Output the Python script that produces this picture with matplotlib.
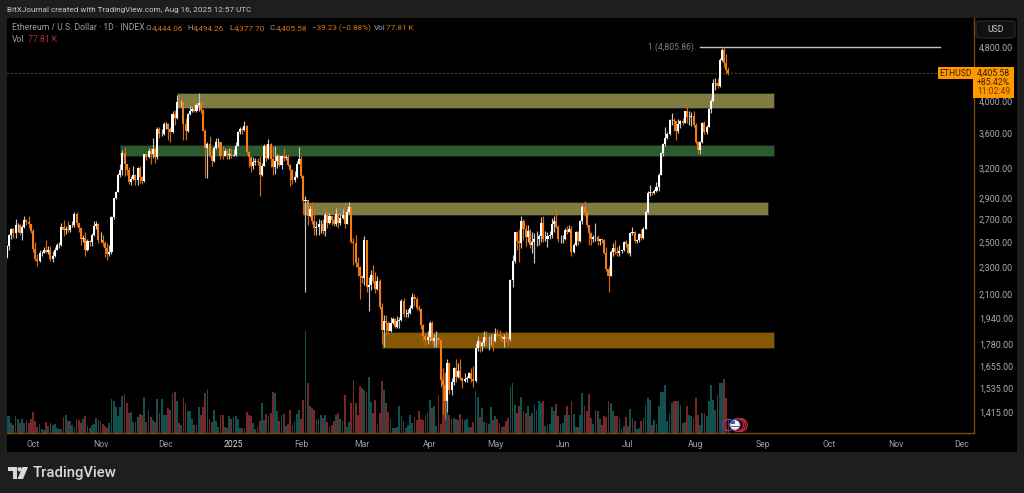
import numpy as np
import pandas as pd
import matplotlib
matplotlib.use("Agg")
import matplotlib.pyplot as plt
import matplotlib.dates as mdates
from matplotlib.patches import Rectangle, Circle, Polygon, FancyBboxPatch
from matplotlib.transforms import Affine2D
from matplotlib.ticker import FuncFormatter, NullLocator, FixedLocator

# ---- Daily data (Sep 19 2024 .. Aug 16 2025) ----
first_open = 2380
close_sep = [2465,2560,2612,2580,2645,2650,2580,2630,2695,2675,2655,2600]
high_sep  = [2480,2570,2620,2620,2700,2670,2660,2650,2730,2700,2730,2660]
low_sep   = [2370,2440,2530,2540,2540,2590,2560,2520,2620,2650,2620,2580]
vol_sep   = [37,37,22,18,37,30,22,30,22,28,22,30]

close_oct = [2445,2365,2350,2415,2415,2440,2420,2440,2365,2385,2440,2475,2480,2630,2605,2610,2605,2645,2645,2750,2665,2625,2525,2535,2440,2510,2505,2565,2640,2660,2515]
high_oct  = [2610,2500,2400,2440,2430,2460,2520,2465,2470,2430,2460,2490,2500,2665,2695,2640,2680,2650,2680,2770,2770,2660,2630,2560,2590,2530,2520,2580,2680,2680,2670]
low_oct   = [2420,2350,2310,2340,2390,2410,2410,2400,2350,2340,2380,2440,2455,2470,2550,2570,2590,2590,2630,2635,2640,2590,2480,2500,2385,2430,2470,2465,2550,2610,2490]
vol_oct   = [47,27,14,20,9,7,24,16,22,18,20,12,9,8,36,40,26,26,18,14,30,28,22,30,38,16,10,17,20,33,28]

close_nov = [2515,2490,2455,2400,2420,2720,2895,2960,3125,3180,3370,3245,3185,3060,3090,3130,3075,3205,3105,3070,3355,3325,3395,3360,3415,3325,3650,3590,3590,3705]
high_nov  = [2585,2560,2510,2490,2475,2730,2900,2965,3150,3250,3400,3440,3245,3215,3120,3220,3140,3215,3220,3120,3360,3370,3430,3430,3540,3430,3680,3680,3650,3730]
low_nov   = [2500,2470,2380,2360,2390,2400,2700,2890,2955,3110,3130,3120,3125,3035,3030,3080,3030,3030,3050,3040,3060,3290,3310,3250,3310,3260,3300,3540,3560,3580]
vol_nov   = [26,20,15,12,22,76,70,57,38,58,82,86,66,44,46,24,24,35,42,40,80,25,50,35,28,24,75,45,75,40]

close_dec = [3705,3645,3610,3835,3785,4000,3995,4000,3710,3630,3835,3880,3905,3870,3960,3985,3890,3625,3420,3470,3335,3280,3420,3490,3490,3335,3330,3395,3350,3355,3330]
high_dec  = [3740,3720,3670,3880,3885,4085,4020,4020,4005,3780,3845,3945,3930,3975,3975,4110,3995,3900,3650,3490,3560,3400,3450,3540,3545,3500,3445,3420,3410,3430,3420]
low_dec   = [3650,3520,3500,3600,3700,3770,3960,3925,3520,3520,3610,3820,3860,3860,3860,3880,3850,3620,3100,3100,3320,3220,3270,3410,3440,3300,3300,3330,3300,3300,3310]
vol_dec   = [40,55,52,88,90,70,22,18,78,66,48,48,32,18,18,58,40,58,88,98,31,24,52,26,14,40,40,14,12,38,30]

close_jan = [3350,3450,3610,3655,3635,3685,3380,3325,3220,3265,3285,3270,3135,3225,3450,3310,3475,3300,3210,3280,3330,3240,3340,3315,3320,3235,3185,3080,3110,3250,3300]
high_jan  = [3410,3490,3630,3680,3670,3745,3700,3390,3340,3320,3310,3310,3340,3260,3470,3470,3525,3480,3450,3450,3360,3360,3350,3425,3350,3360,3250,3190,3170,3280,3440]
low_jan   = [3330,3340,3450,3590,3590,3620,3360,3210,3160,3190,3240,3235,2920,3120,3220,3280,3300,3210,3130,3140,3200,3220,3190,3280,3290,3220,3020,3040,3060,3100,3260]
vol_jan   = [36,38,32,12,10,12,46,40,38,22,8,14,26,66,28,42,38,44,92,88,48,26,40,42,16,20,50,18,26,42,52]

close_feb = [3120,2870,2880,2730,2790,2685,2625,2630,2660,2660,2600,2740,2670,2725,2690,2660,2745,2670,2715,2740,2660,2770,2815,2500,2495,2335,2305,2235]
high_feb  = [3330,3130,2920,2830,2825,2860,2780,2680,2700,2690,2700,2770,2780,2760,2730,2730,2800,2760,2760,2790,2860,2790,2860,2820,2540,2560,2380,2310]
low_feb   = [3100,2750,2120,2650,2720,2660,2560,2560,2560,2580,2570,2550,2620,2660,2650,2640,2640,2620,2650,2700,2620,2660,2750,2490,2320,2300,2230,2070]
vol_feb   = [30,74,227,110,60,55,52,28,30,40,33,40,24,14,18,26,40,44,30,26,85,14,24,67,118,67,40,105]

close_mar = [2215,2515,2155,2170,2240,2200,2140,2200,2015,1865,1920,1910,1860,1910,1935,1885,1925,1930,2055,1965,1965,1975,2005,2080,2065,2010,2000,1895,1825,1805,1820]
high_mar  = [2240,2550,2520,2225,2280,2320,2260,2230,2210,2040,1960,1960,1920,1945,1950,1940,1955,1950,2070,2075,2000,2000,2030,2110,2100,2080,2025,2010,1900,1840,1860]
low_mar   = [2180,2170,2120,1990,2130,2180,2110,2130,2000,1780,1760,1840,1840,1850,1905,1880,1880,1880,1925,1950,1950,1950,1970,2000,2020,1995,1990,1870,1800,1770,1780]
vol_mar   = [100,96,92,125,68,44,74,20,44,115,96,66,46,30,12,10,14,59,37,26,11,18,40,22,36,28,48,30,28,40,44]

close_apr = [1910,1795,1815,1815,1805,1580,1550,1470,1670,1525,1565,1645,1595,1625,1590,1575,1585,1590,1615,1585,1575,1755,1795,1770,1785,1820,1795,1800,1800,1795]
high_apr  = [1925,1925,1840,1860,1820,1810,1640,1620,1690,1670,1590,1650,1695,1670,1690,1595,1615,1600,1620,1640,1655,1785,1830,1800,1800,1860,1860,1830,1840,1830]
low_apr   = [1800,1780,1760,1760,1780,1540,1410,1385,1420,1505,1500,1550,1565,1590,1580,1535,1565,1570,1590,1565,1540,1570,1740,1730,1740,1770,1770,1745,1775,1740]
vol_apr   = [74,55,60,15,85,20,125,130,110,40,30,34,32,28,42,30,28,32,14,14,24,93,80,35,55,24,22,20,58,28]

close_may = [1840,1835,1830,1810,1820,1815,1810,2205,2345,2585,2510,2495,2680,2610,2545,2600,2475,2500,2525,2525,2550,2665,2530,2530,2550,2565,2660,2680,2630,2530,2530]
high_may  = [1875,1870,1865,1830,1840,1860,1840,2210,2395,2590,2600,2610,2725,2700,2650,2650,2610,2590,2580,2595,2570,2720,2730,2600,2590,2600,2710,2730,2790,2650,2560]
low_may   = [1790,1820,1800,1790,1760,1790,1775,1800,2150,2330,2440,2340,2450,2520,2470,2500,2450,2410,2330,2470,2480,2500,2500,2510,2460,2530,2540,2590,2620,2500,2490]
vol_may   = [38,30,22,14,16,26,34,102,110,62,44,60,80,48,44,60,38,45,65,52,70,66,70,15,18,20,58,48,65,37,21]

close_jun = [2530,2605,2590,2610,2420,2475,2585,2510,2680,2815,2770,2645,2580,2525,2545,2545,2510,2525,2520,2410,2290,2230,2420,2450,2420,2415,2425,2435,2500,2485]
high_jun  = [2560,2620,2640,2650,2640,2490,2600,2600,2690,2830,2870,2780,2650,2590,2560,2670,2560,2530,2540,2530,2460,2310,2440,2490,2520,2460,2480,2440,2510,2520]
low_jun   = [2490,2520,2570,2590,2390,2410,2470,2480,2500,2660,2730,2630,2480,2480,2500,2510,2480,2480,2490,2400,2270,2120,2230,2390,2400,2390,2390,2410,2430,2460]
vol_jun   = [22,40,60,40,70,42,13,13,40,88,59,48,87,33,20,50,48,31,18,37,35,70,66,48,37,37,33,9,15,35]

close_jul = [2410,2575,2585,2510,2515,2570,2540,2615,2770,2950,2955,2945,2970,3010,3135,3370,3475,3545,3590,3760,3765,3745,3625,3705,3745,3725,3870,3795,3795,3810,3695]
high_jul  = [2490,2590,2630,2600,2530,2580,2610,2630,2780,2970,3030,2960,2990,3060,3150,3380,3480,3680,3610,3770,3850,3780,3750,3770,3760,3790,3880,3940,3880,3860,3870]
low_jul   = [2400,2390,2560,2490,2490,2500,2520,2530,2610,2760,2920,2930,2940,2960,2970,3130,3330,3450,3530,3580,3700,3630,3520,3600,3660,3700,3720,3720,3700,3690,3680]
vol_jul   = [15,53,33,26,9,10,26,33,63,78,74,18,28,20,60,92,92,107,26,44,67,70,70,70,63,22,24,60,41,37,33]

close_aug = [3490,3400,3495,3720,3615,3680,3905,4010,4260,4260,4220,4590,4750,4550,4440,4405.58]
high_aug  = [3720,3510,3510,3735,3745,3700,3920,4050,4320,4330,4330,4620,4790,4805.86,4690,4494.26]
low_aug   = [3470,3360,3360,3480,3590,3590,3670,3850,4000,4160,4190,4200,4580,4490,4380,4377.70]
vol_aug   = [78,41,18,44,44,37,70,107,74,52,85,112,111,120,78,30]

months = ["sep","oct","nov","dec","jan","feb","mar","apr","may","jun","jul","aug"]
g = globals()
closes = np.concatenate([g["close_" + m] for m in months], dtype=float)
highs = np.concatenate([g["high_" + m] for m in months], dtype=float)
lows = np.concatenate([g["low_" + m] for m in months], dtype=float)
volumes = np.concatenate([g["vol_" + m] for m in months], dtype=float)
dates = pd.date_range("2024-09-19", periods=len(closes), freq="D")
opens = np.r_[first_open, closes[:-1]]
highs = np.maximum(highs, np.maximum(opens, closes))
lows = np.minimum(lows, np.minimum(opens, closes))

price_ticks = [4800,4000,3600,3200,2900,2700,2500,2300,2100,1940,1780,1655,1535,1415]
month_ticks = ["2024-10-01","2024-11-01","2024-12-01","2025-01-01","2025-02-01","2025-03-01","2025-04-01",
               "2025-05-01","2025-06-01","2025-07-01","2025-08-01","2025-09-01","2025-10-01","2025-11-01","2025-12-01"]
month_labels = ["Oct","Nov","Dec","2025","Feb","Mar","Apr","May","Jun","Jul","Aug","Sep","Oct","Nov","Dec"]

zone_left = ["2024-12-06","2024-11-10","2025-02-02","2025-03-10"]
zone_right = ["2025-09-06","2025-09-06","2025-09-03","2025-09-06"]
zone_top = [4110,3461,2856,1853]
zone_bottom = [3915,3336,2740,1757]
zone_colors = ["#7f7b41","#2b5a2c","#7f7b41","#875703"]

ath_price = 4805.86
ath_from, ath_to = "2025-08-03", "2025-11-21"
last_price = 4405.58

# ---- Figure and pixel helpers ----
W, H = 1024, 493
BG, BLACK = "#1e1e1e", "#000000"
plt.rcParams["font.family"] = ["Roboto", "DejaVu Sans"]
fig = plt.figure(figsize=(W/100, H/100), dpi=100, facecolor=BG)
PX = Affine2D().scale(1, -1).translate(0, H)

def ptext(x, y, s, color="#b2b5be", size=6.2, ha="left", va="center", **kw):
    return fig.text(x, y, s, color=color, fontsize=size, ha=ha, va=va, transform=PX, **kw)

def prect(x0, y0, x1, y1, color, z=0):
    fig.add_artist(Rectangle((x0, y0), x1-x0, y1-y0, transform=PX, fc=color, ec="none", zorder=z))

prect(7, 18, 1017, 452, BLACK, z=-5)

L, R, T, B = 7, 974, 18, 433
rect = [L/W, 1-B/H, (R-L)/W, (B-T)/H]

# volume pane (below)
axv = fig.add_axes(rect, facecolor="none", zorder=1)
ax = fig.add_axes(rect, facecolor="none", zorder=2)

d0 = mdates.date2num(pd.Timestamp("2024-10-01"))
px_per_day = 2.18
xlim = (d0 + (L-33)/px_per_day, d0 + (R-33)/px_per_day)
x = mdates.date2num(dates)

up = closes >= opens
axv.bar(x, volumes, width=0.82, color=np.where(up, "#11504c", "#732829"), linewidth=0)
axv.set_xlim(xlim)
axv.set_ylim(0, 921)
axv.axis("off")

ax.set_yscale("log")
ax.set_xlim(xlim)
ax.set_ylim(1322, 5288)

for a, b, t, bt, c in zip(zone_left, zone_right, zone_top, zone_bottom, zone_colors):
    xa = mdates.date2num(pd.Timestamp(a)); xb = mdates.date2num(pd.Timestamp(b))
    ax.add_patch(Rectangle((xa, bt), xb-xa, t-bt, fc=c, ec="#22221a", lw=0.6, zorder=2))

ax.axhline(last_price, color="#c56a12", lw=0.8, ls=(0, (1, 2.6)), zorder=1.5)
ax.plot(mdates.date2num(pd.to_datetime([ath_from, ath_to])), [ath_price, ath_price],
        color="#c4c4c4", lw=1.0, zorder=3)

ax.vlines(x[up], lows[up], highs[up], color="#c4c4c4", lw=0.85, zorder=4)
ax.vlines(x[~up], lows[~up], highs[~up], color="#d06c10", lw=0.85, zorder=4)
ax.bar(x[up], (closes-opens)[up], bottom=opens[up], width=0.95, color="#ffffff", linewidth=0, zorder=5)
ax.bar(x[~up], (opens-closes)[~up], bottom=closes[~up], width=0.95, color="#f57c14", linewidth=0, zorder=5)

for s in ("top", "left"):
    ax.spines[s].set_visible(False)
for s in ("right", "bottom"):
    ax.spines[s].set_color("#7a4a10")
    ax.spines[s].set_linewidth(1.0)

ax.yaxis.tick_right()
ax.yaxis.set_major_locator(FixedLocator(price_ticks))
ax.yaxis.set_minor_locator(NullLocator())
ax.yaxis.set_major_formatter(FuncFormatter(lambda v, p: f"{v:,.2f}"))
ax.tick_params(axis="y", length=0, pad=3.6, labelsize=6.4, labelcolor="#a9acb4")
ax.set_xticks(mdates.date2num(pd.to_datetime(month_ticks)))
ax.set_xticklabels(month_labels)
ax.xaxis.set_minor_locator(NullLocator())
ax.tick_params(axis="x", length=0, pad=5, labelsize=6.2, labelcolor="#9a9da5")
ax.get_xticklabels()[3].set_color("#d8d8d8")

# ---- Header ----
ptext(7, 10, "BitXJournal created with TradingView.com, Aug 16, 2025 12:57 UTC", color="#c9c9c9", size=5.85)
GR, OR = "#9a9da5", "#d9720f"
ptext(12, 28, "Ethereum / U.S. Dollar · 1D · INDEX", color=GR)
for xx, s, c in [(146,"O",GR),(152,"4,444.06",OR),(187,"H",GR),(193,"4,494.26",OR),(229,"L",GR),(234,"4,377.70",OR),
                 (270,"C",GR),(276,"4,405.58",OR),(312,"−39.23 (−0.88%)",OR),(374,"Vol",GR),(386,"77.81 K",OR)]:
    ptext(xx, 28, s, color=c, size=5.9)
ptext(12, 39.5, "Vol", color=GR)
ptext(28, 39.5, "77.81 K", color="#a8302e")

ptext(694, 47, "1 (4,805.86)", color="#7d7d7d", ha="right")

# ---- Price axis widgets ----
fig.add_artist(FancyBboxPatch((976, 21), 39, 17, boxstyle="round,pad=0,rounding_size=2.5", transform=PX,
                              fc="#111111", ec="#2c2c2c", lw=0.8))
ptext(995.5, 30, "USD", color="#c9c9c9", ha="center")
prect(938, 67, 973, 79, "#ff9800", z=6)
prect(973, 67, 1014, 97.5, "#ff9800", z=6)
for xx, yy, s, ha, col in [(955.5,73.5,"ETHUSD","center","#3a2500"),(993.5,73,"4,405.58","center","#2b1b00"),
                           (993.5,82.5,"+85.42%","center","#3a2500"),(993.5,92,"11:02:49","center","#6b4300")]:
    ptext(xx, yy, s, color=col, ha=ha, zorder=7)

# ---- Event marker ----
fig.add_artist(Circle((728.5, 425), 5.7, transform=PX, fc="none", ec="#7a3fa0", lw=0.9, zorder=8))
for cx in (741, 739, 737):
    fig.add_artist(Circle((cx, 425), 6.3, transform=PX, fc="#000000", ec="#c8303a", lw=0.9, zorder=8))
fig.add_artist(Circle((735, 425), 5.2, transform=PX, fc="#f2f2f2", ec="#2f5fc0", lw=0.7, zorder=9))
fig.add_artist(Rectangle((731, 420.6), 4, 3.6, transform=PX, fc="#2f5fc0", ec="none", zorder=10))
fig.add_artist(Rectangle((730.6, 426), 9, 1.3, transform=PX, fc="#d03a3a", ec="none", zorder=10))

# ---- TradingView logo ----
LOGO = "#d9d9d9"
fig.add_artist(Polygon([(8,467),(17,467),(17,479),(12.5,479),(12.5,471),(8,471)], transform=PX, fc=LOGO, ec="none"))
fig.add_artist(Circle((19.7, 469.3), 2.2, transform=PX, fc=LOGO, ec="none"))
fig.add_artist(Polygon([(22.5,467),(28,467),(23,479),(17.5,479)], transform=PX, fc=LOGO, ec="none"))
ptext(33, 473, "TradingView", color=LOGO, size=10.7, weight="medium")

fig.savefig("out.png", dpi=100, facecolor=BG)
